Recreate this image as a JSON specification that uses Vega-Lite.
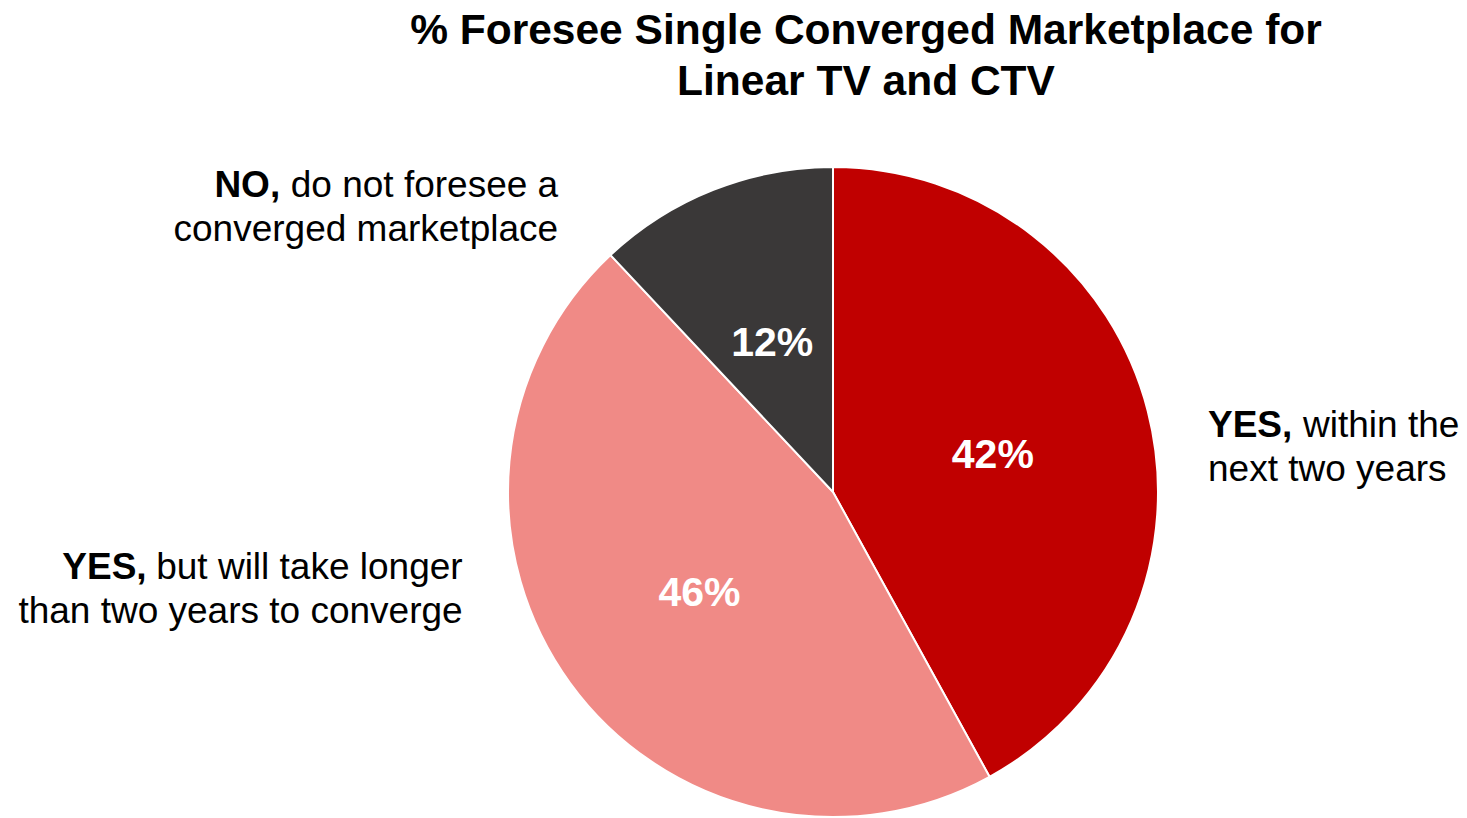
{
  "$schema": "https://vega.github.io/schema/vega-lite/v6.json",
  "width": 650,
  "height": 650,
  "autosize": {"type": "none"},
  "padding": {"left": 508, "top": 167, "right": 309, "bottom": 1},
  "background": "white",
  "config": {"view": {"stroke": null}, "font": "Liberation Sans"},
  "title": {
    "text": ["% Foresee Single Converged Marketplace for", "Linear TV and CTV"],
    "font": "Liberation Sans",
    "fontSize": 42.5,
    "fontWeight": "bold",
    "color": "#000000",
    "anchor": "middle",
    "frame": "group",
    "dx": 33,
    "lineHeight": 51,
    "offset": 60
  },
  "data": {
    "values": [
      {"category": "YES, within the next two years", "value": 42, "order": 1, "label": "42%", "bold": "YES,", "line1": "within the", "line2": "next two years"},
      {"category": "YES, but will take longer than two years to converge", "value": 46, "order": 2, "label": "46%", "bold": "YES,", "line1": "but will take longer", "line2": "than two years to converge"},
      {"category": "NO, do not foresee a converged marketplace", "value": 12, "order": 3, "label": "12%", "bold": "NO,", "line1": "do not foresee a", "line2": "converged marketplace"}
    ]
  },
  "encoding": {
    "theta": {"field": "value", "type": "quantitative", "stack": true},
    "order": {"field": "order", "type": "quantitative"}
  },
  "layer": [
    {
      "mark": {"type": "arc", "stroke": "white", "strokeWidth": 2},
      "encoding": {
        "color": {
          "field": "category",
          "type": "nominal",
          "scale": {
            "domain": ["YES, within the next two years", "YES, but will take longer than two years to converge", "NO, do not foresee a converged marketplace"],
            "range": ["#C00000", "#F08A86", "#3A3838"]
          },
          "legend": null
        }
      }
    },
    {
      "mark": {"type": "text", "radius": 165, "dy": 5, "fontSize": 41, "fontWeight": "bold", "fill": "white", "font": "Liberation Sans"},
      "encoding": {"text": {"field": "label"}}
    },
    {
      "mark": {"type": "text", "radius": 350, "align": "left", "baseline": "alphabetic", "fontSize": 37, "fontWeight": "bold", "fill": "black", "dx": 36, "dy": 32},
      "encoding": {"text": {"condition": {"test": "datum.order === 1", "field": "bold"}, "value": ""}}
    },
    {
      "mark": {"type": "text", "radius": 350, "align": "left", "baseline": "alphabetic", "fontSize": 37, "fill": "black", "dx": 131, "dy": 32},
      "encoding": {"text": {"condition": {"test": "datum.order === 1", "field": "line1"}, "value": ""}}
    },
    {
      "mark": {"type": "text", "radius": 350, "align": "left", "baseline": "alphabetic", "fontSize": 37, "fill": "black", "dx": 36, "dy": 76},
      "encoding": {"text": {"condition": {"test": "datum.order === 1", "field": "line2"}, "value": ""}}
    },
    {
      "mark": {"type": "text", "radius": 150, "align": "right", "baseline": "alphabetic", "fontSize": 37, "fontWeight": "bold", "fill": "black", "dx": -565, "dy": -1.5},
      "encoding": {"text": {"condition": {"test": "datum.order === 2", "field": "bold"}, "value": ""}}
    },
    {
      "mark": {"type": "text", "radius": 150, "align": "right", "baseline": "alphabetic", "fontSize": 37, "fill": "black", "dx": -249, "dy": -1.5},
      "encoding": {"text": {"condition": {"test": "datum.order === 2", "field": "line1"}, "value": ""}}
    },
    {
      "mark": {"type": "text", "radius": 150, "align": "right", "baseline": "alphabetic", "fontSize": 37, "fill": "black", "dx": -249, "dy": 42.5},
      "encoding": {"text": {"condition": {"test": "datum.order === 2", "field": "line2"}, "value": ""}}
    },
    {
      "mark": {"type": "text", "radius": 350, "align": "right", "baseline": "alphabetic", "fontSize": 37, "fontWeight": "bold", "fill": "black", "dx": -424, "dy": 30},
      "encoding": {"text": {"condition": {"test": "datum.order === 3", "field": "bold"}, "value": ""}}
    },
    {
      "mark": {"type": "text", "radius": 350, "align": "right", "baseline": "alphabetic", "fontSize": 37, "fill": "black", "dx": -146, "dy": 30},
      "encoding": {"text": {"condition": {"test": "datum.order === 3", "field": "line1"}, "value": ""}}
    },
    {
      "mark": {"type": "text", "radius": 350, "align": "right", "baseline": "alphabetic", "fontSize": 37, "fill": "black", "dx": -146, "dy": 74},
      "encoding": {"text": {"condition": {"test": "datum.order === 3", "field": "line2"}, "value": ""}}
    }
  ]
}
